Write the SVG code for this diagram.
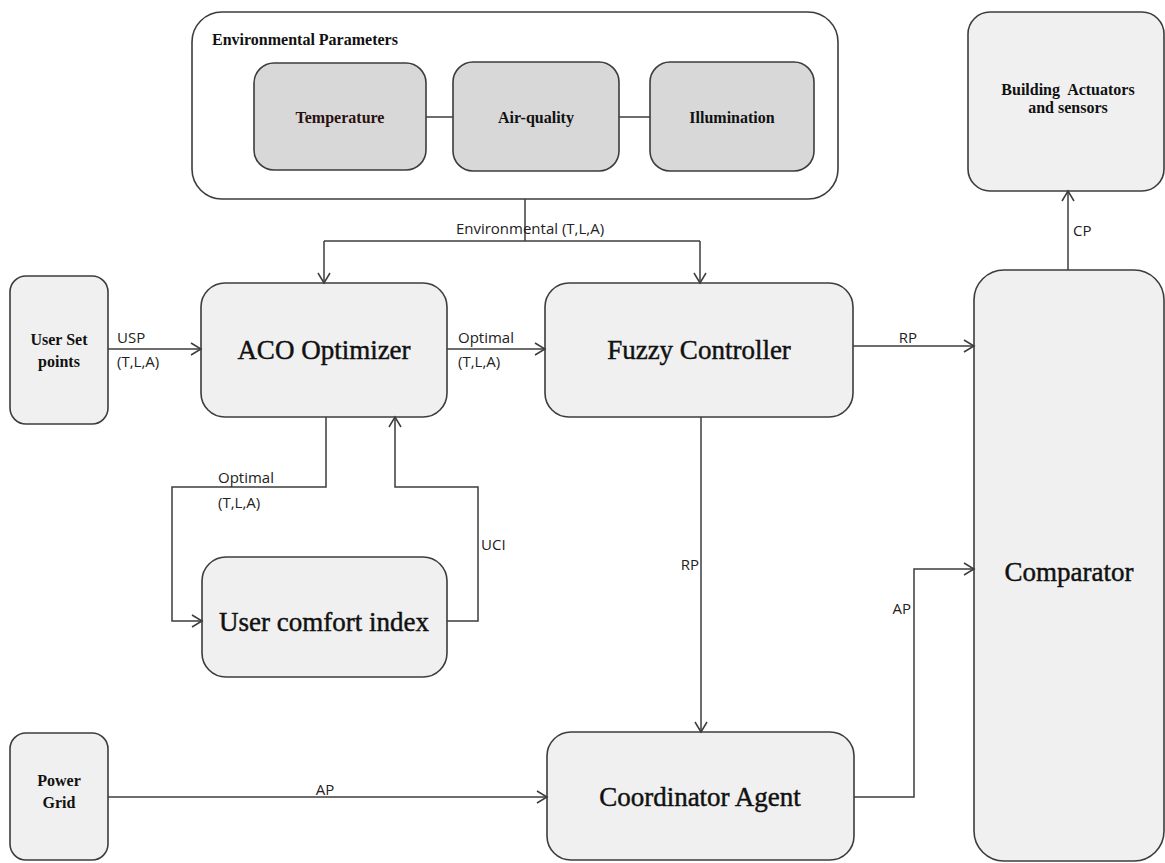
<svg xmlns="http://www.w3.org/2000/svg" width="1165" height="863" viewBox="0 0 1165 863">
  <style>
    .node { fill: #f0f0f0; stroke: #3c3c3c; stroke-width: 1.6; }
    .sub { fill: #d8d8d8; stroke: #3c3c3c; stroke-width: 1.6; }
    .frame { fill: #ffffff; stroke: #3c3c3c; stroke-width: 1.6; }
    .big { font-family: "Liberation Serif", "Times New Roman", serif; font-size: 27px; fill: #111; stroke: #111; stroke-width: 0.45; text-anchor: middle; }
    .small { font-family: "Liberation Serif", "Times New Roman", serif; font-size: 16px; font-weight: bold; fill: #111; text-anchor: middle; }
    .lbl { font-family: "Open Sans", "Liberation Sans", sans-serif; font-size: 15px; fill: #222; }
    .wire { fill: none; stroke: #3c3c3c; stroke-width: 1.5; }
    .arrow { fill: none; stroke: #3c3c3c; stroke-width: 1.5; marker-end: url(#open); }
  </style>
  <defs>
    <marker id="open" markerUnits="userSpaceOnUse" markerWidth="14" markerHeight="14" refX="11" refY="7" orient="auto">
      <path d="M1,1 L11,7 L1,13" fill="none" stroke="#3c3c3c" stroke-width="1.5"/>
    </marker>
  </defs>

  <!-- Environmental parameters group -->
  <g id="env-params">
    <rect class="frame" x="192" y="12" width="646" height="187" rx="30"/>
    <text class="small" x="212" y="45" style="text-anchor:start">Environmental Parameters</text>
  </g>
  <g id="temperature">
    <rect class="sub" x="254" y="63" width="172" height="107" rx="20"/>
    <text class="small" x="340" y="123" style="fill:#2a1010">Temperature</text>
  </g>
  <g id="air-quality">
    <rect class="sub" x="453" y="62" width="166" height="109" rx="20"/>
    <text class="small" x="536" y="123">Air-quality</text>
  </g>
  <g id="illumination">
    <rect class="sub" x="650" y="62" width="164" height="109" rx="20"/>
    <text class="small" x="732" y="123">Illumination</text>
  </g>

  <!-- Main blocks -->
  <g id="building">
    <rect class="node" x="968" y="12" width="196" height="179" rx="22"/>
    <text class="small" x="1068" y="95" xml:space="preserve">Building  Actuators</text>
    <text class="small" x="1068" y="113">and sensors</text>
  </g>
  <g id="user-set-points">
    <rect class="node" x="10" y="276" width="98" height="148" rx="16"/>
    <text class="small" x="59" y="345">User Set</text>
    <text class="small" x="59" y="367">points</text>
  </g>
  <g id="aco">
    <rect class="node" x="201" y="283" width="246" height="134" rx="24"/>
    <text class="big" x="324" y="359">ACO Optimizer</text>
  </g>
  <g id="fuzzy">
    <rect class="node" x="545" y="283" width="308" height="134" rx="24"/>
    <text class="big" x="699" y="359">Fuzzy Controller</text>
  </g>
  <g id="comfort">
    <rect class="node" x="202" y="557" width="245" height="120" rx="24"/>
    <text class="big" x="324" y="631">User comfort index</text>
  </g>
  <g id="power-grid">
    <rect class="node" x="10" y="733" width="98" height="127" rx="16"/>
    <text class="small" x="59" y="786">Power</text>
    <text class="small" x="59" y="808">Grid</text>
  </g>
  <g id="coordinator">
    <rect class="node" x="547" y="732" width="307" height="128" rx="24"/>
    <text class="big" x="700" y="806">Coordinator Agent</text>
  </g>
  <g id="comparator">
    <rect class="node" x="974" y="270" width="190" height="591" rx="30"/>
    <text class="big" x="1069" y="581">Comparator</text>
  </g>

  <!-- Connectors -->
  <g id="connectors">
    <line class="wire" x1="426" y1="117" x2="453" y2="117"/>
    <line class="wire" x1="619" y1="117" x2="650" y2="117"/>
    <path class="wire" d="M525,199 V241"/>
    <path class="wire" d="M324,241 H700"/>
    <path class="arrow" d="M324,241 V283"/>
    <path class="arrow" d="M700,241 V283"/>
    <path class="arrow" d="M108,349 H201"/>
    <path class="arrow" d="M447,349 H545"/>
    <path class="arrow" d="M853,346 H974"/>
    <path class="arrow" d="M326,417 V487 H172 V621 H202"/>
    <path class="arrow" d="M447,621 H478 V487 H395 V417"/>
    <path class="arrow" d="M701,417 V732"/>
    <path class="arrow" d="M108,797 H547"/>
    <path class="arrow" d="M854,797 H914 V569 H974"/>
    <path class="arrow" d="M1068,270 V191"/>

    <text class="lbl" x="530" y="234" text-anchor="middle">Environmental (T,L,A)</text>
    <text class="lbl" x="117" y="343">USP</text>
    <text class="lbl" x="117" y="367">(T,L,A)</text>
    <text class="lbl" x="458" y="343">Optimal</text>
    <text class="lbl" x="458" y="367">(T,L,A)</text>
    <text class="lbl" x="218" y="483">Optimal</text>
    <text class="lbl" x="218" y="508">(T,L,A)</text>
    <text class="lbl" x="481" y="550">UCI</text>
    <text class="lbl" x="699" y="570" text-anchor="end">RP</text>
    <text class="lbl" x="908" y="343" text-anchor="middle">RP</text>
    <text class="lbl" x="911" y="614" text-anchor="end">AP</text>
    <text class="lbl" x="325" y="795" text-anchor="middle">AP</text>
    <text class="lbl" x="1073" y="236">CP</text>
  </g>
</svg>
